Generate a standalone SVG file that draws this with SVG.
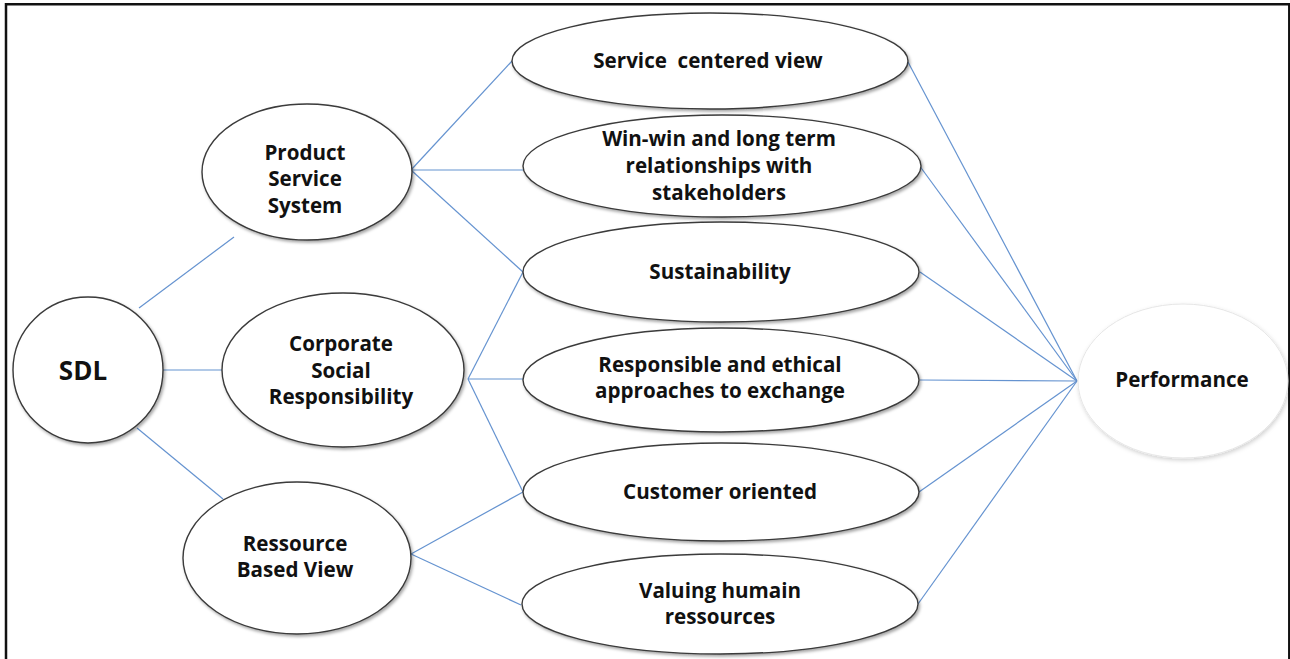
<svg xmlns="http://www.w3.org/2000/svg" width="1290" height="659" viewBox="0 0 1290 659">
  <defs>
    <filter id="shadow" x="-10%" y="-10%" width="125%" height="130%">
      <feDropShadow dx="1.5" dy="2" stdDeviation="1.5" flood-color="#000" flood-opacity="0.35"/>
    </filter>
    <filter id="softShadow" x="-10%" y="-10%" width="125%" height="130%">
      <feDropShadow dx="1" dy="2" stdDeviation="2" flood-color="#000" flood-opacity="0.18"/>
    </filter>
  </defs>
  <style>
    .node { fill: #ffffff; stroke: #3a3a3a; stroke-width: 1.4; filter: url(#shadow); }
    .node-light { fill: #ffffff; stroke: #e6e6e6; stroke-width: 1; filter: url(#softShadow); }
    .edge { stroke: #6593d0; stroke-width: 1.2; fill: none; }
    .label { font-family: "Open Sans", "Lato", "Liberation Sans", sans-serif; font-weight: bold; font-size: 20.6px; fill: #111; text-anchor: middle; }
    .big { font-size: 26px; }
    .frame { fill: none; stroke: #111; stroke-width: 2.5; }
  </style>

  <rect width="1290" height="659" fill="#ffffff"/>
  <path class="frame" d="M6,659 V4.2 H1289.3 V659"/>

  <!-- connectors -->
  <g id="connectors">
    <line class="edge" x1="139" y1="308" x2="234" y2="237"/>
    <line class="edge" x1="163" y1="370" x2="222" y2="370"/>
    <line class="edge" x1="137" y1="428" x2="223" y2="499"/>

    <line class="edge" x1="411" y1="170" x2="512" y2="61"/>
    <line class="edge" x1="411" y1="170" x2="523" y2="170"/>
    <line class="edge" x1="411" y1="170" x2="523" y2="272"/>

    <line class="edge" x1="468" y1="379" x2="523" y2="272"/>
    <line class="edge" x1="468" y1="379" x2="523" y2="379"/>
    <line class="edge" x1="468" y1="379" x2="523" y2="492"/>

    <line class="edge" x1="411" y1="554" x2="523" y2="492"/>
    <line class="edge" x1="411" y1="554" x2="521" y2="605"/>

    <line class="edge" x1="908" y1="62" x2="1077" y2="381"/>
    <line class="edge" x1="919" y1="165" x2="1077" y2="381"/>
    <line class="edge" x1="920" y1="272" x2="1077" y2="381"/>
    <line class="edge" x1="920" y1="380" x2="1077" y2="381"/>
    <line class="edge" x1="919" y1="492" x2="1077" y2="381"/>
    <line class="edge" x1="918" y1="604" x2="1077" y2="381"/>
  </g>

  <!-- left column -->
  <g id="sdl">
    <ellipse class="node" cx="88" cy="370" rx="75" ry="73"/>
    <text class="label big" x="83" y="380">SDL</text>
  </g>

  <g id="product-service-system">
    <ellipse class="node" cx="307" cy="172" rx="105" ry="68"/>
    <text class="label" x="305" y="160">Product</text>
    <text class="label" x="305" y="186">Service</text>
    <text class="label" x="305" y="213">System</text>
  </g>

  <g id="corporate-social-responsibility">
    <ellipse class="node" cx="343" cy="370" rx="121" ry="77"/>
    <text class="label" x="341" y="351">Corporate</text>
    <text class="label" x="341" y="378">Social</text>
    <text class="label" x="341" y="404">Responsibility</text>
  </g>

  <g id="ressource-based-view">
    <ellipse class="node" cx="297" cy="558" rx="114" ry="76"/>
    <text class="label" x="295" y="551">Ressource</text>
    <text class="label" x="295" y="577">Based View</text>
  </g>

  <!-- middle column -->
  <g id="service-centered-view">
    <ellipse class="node" cx="710" cy="61" rx="198" ry="48"/>
    <text class="label" x="708" y="68" xml:space="preserve">Service  centered view</text>
  </g>

  <g id="win-win">
    <ellipse class="node" cx="722" cy="166" rx="199" ry="51"/>
    <text class="label" x="719" y="146">Win-win and long term</text>
    <text class="label" x="719" y="173">relationships with</text>
    <text class="label" x="719" y="200">stakeholders</text>
  </g>

  <g id="sustainability">
    <ellipse class="node" cx="721" cy="272" rx="198" ry="50"/>
    <text class="label" x="720" y="279">Sustainability</text>
  </g>

  <g id="responsible-ethical">
    <ellipse class="node" cx="721" cy="380" rx="198" ry="52"/>
    <text class="label" x="720" y="372">Responsible and ethical</text>
    <text class="label" x="720" y="398">approaches to exchange</text>
  </g>

  <g id="customer-oriented">
    <ellipse class="node" cx="721" cy="492" rx="198" ry="49"/>
    <text class="label" x="720" y="499">Customer oriented</text>
  </g>

  <g id="valuing-human-resources">
    <ellipse class="node" cx="720" cy="604" rx="198" ry="50"/>
    <text class="label" x="720" y="598">Valuing humain</text>
    <text class="label" x="720" y="624">ressources</text>
  </g>

  <!-- right column -->
  <g id="performance">
    <ellipse class="node-light" cx="1183" cy="381" rx="105" ry="77"/>
    <text class="label" x="1182" y="387" font-size="21.8">Performance</text>
  </g>
</svg>
